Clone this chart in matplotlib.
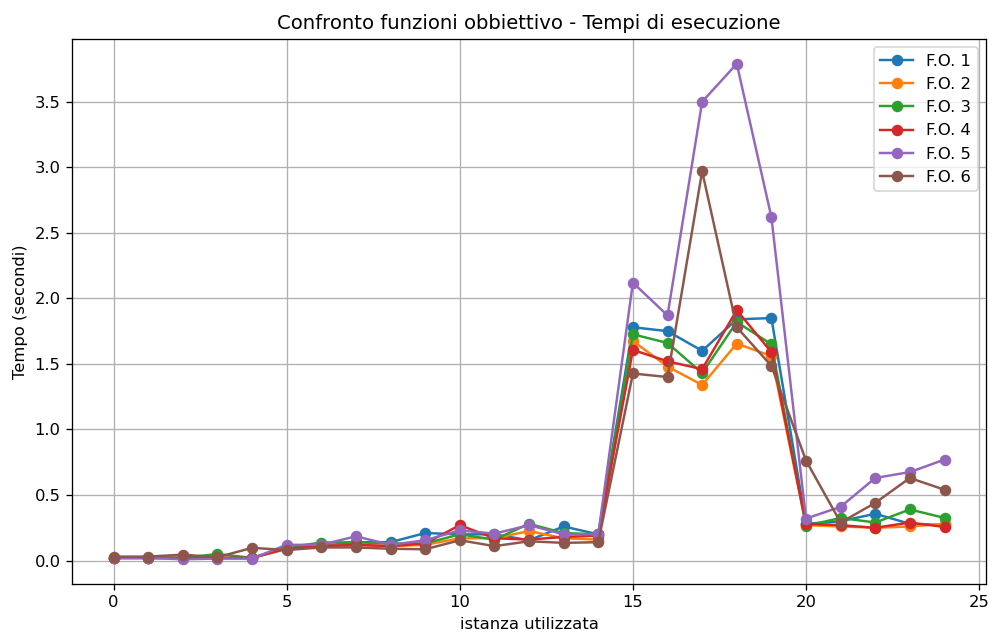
import matplotlib
matplotlib.use("Agg")
import matplotlib.pyplot as plt

istanze = list(range(25))

fo1 = [0.02, 0.02, 0.02, 0.02, 0.02, 0.10, 0.11, 0.14, 0.14, 0.21, 0.20, 0.20, 0.155, 0.26, 0.20,
       1.78, 1.75, 1.60, 1.84, 1.85, 0.28, 0.30, 0.357, 0.28, 0.27]
fo2 = [0.02, 0.02, 0.02, 0.02, 0.02, 0.09, 0.11, 0.12, 0.11, 0.12, 0.17, 0.17, 0.225, 0.17, 0.16,
       1.675, 1.48, 1.34, 1.655, 1.56, 0.27, 0.26, 0.25, 0.26, 0.28]
fo3 = [0.02, 0.02, 0.02, 0.05, 0.02, 0.10, 0.137, 0.14, 0.13, 0.13, 0.20, 0.16, 0.28, 0.21, 0.20,
       1.726, 1.66, 1.43, 1.82, 1.65, 0.265, 0.325, 0.29, 0.39, 0.325]
fo4 = [0.02, 0.02, 0.02, 0.02, 0.02, 0.09, 0.11, 0.12, 0.11, 0.13, 0.27, 0.17, 0.16, 0.18, 0.19,
       1.607, 1.52, 1.46, 1.91, 1.59, 0.28, 0.27, 0.25, 0.29, 0.256]
fo5 = [0.02, 0.02, 0.01, 0.015, 0.015, 0.12, 0.12, 0.185, 0.12, 0.155, 0.23, 0.205, 0.27, 0.20, 0.20,
       2.12, 1.87, 3.50, 3.79, 2.62, 0.32, 0.41, 0.63, 0.675, 0.77]
fo6 = [0.03, 0.03, 0.045, 0.025, 0.097, 0.08, 0.10, 0.10, 0.09, 0.086, 0.155, 0.11, 0.147, 0.135, 0.14,
       1.427, 1.40, 2.97, 1.78, 1.485, 0.763, 0.29, 0.44, 0.63, 0.54]

serie = [fo1, fo2, fo3, fo4, fo5, fo6]
etichette = ["F.O. 1", "F.O. 2", "F.O. 3", "F.O. 4", "F.O. 5", "F.O. 6"]

DPI = 118
fig, ax = plt.subplots(figsize=(992 / DPI, 635 / DPI), dpi=DPI)
fig.subplots_adjust(left=0.0726, right=0.994, top=0.9386, bottom=0.0803)

for valori, nome in zip(serie, etichette):
    ax.plot(istanze, valori, marker="o", label=nome)

ax.set_title("Confronto funzioni obbiettivo - Tempi di esecuzione")
ax.set_xlabel("istanza utilizzata")
ax.set_ylabel("Tempo (secondi)")
ax.grid(True)
ax.legend(loc="upper right")

fig.savefig("out.png", dpi=DPI)
